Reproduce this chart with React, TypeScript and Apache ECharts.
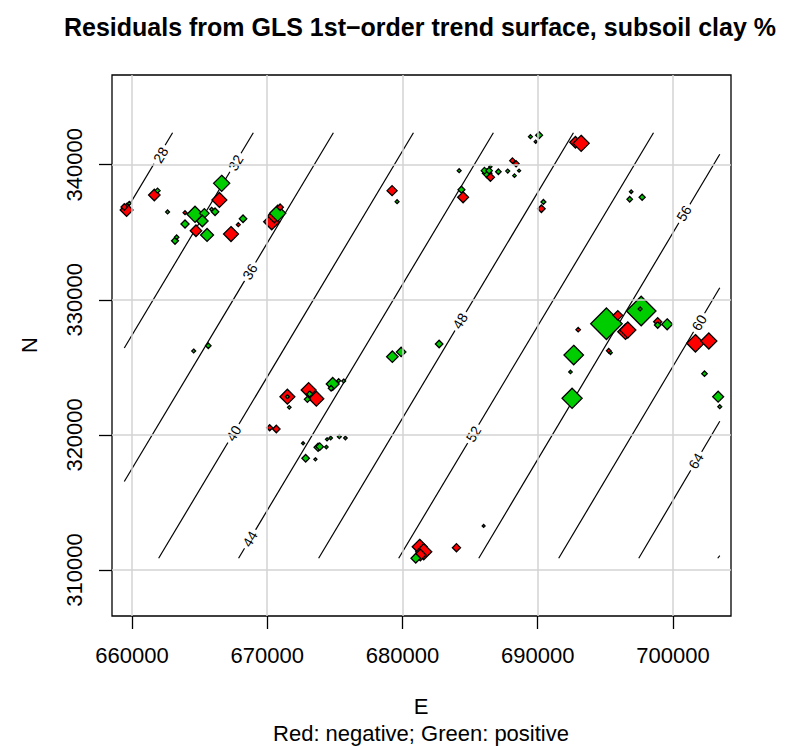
import React, { useEffect, useRef } from "react";
import * as echarts from "echarts";

// ---- axis ticks ----
const xTicks = [660000, 670000, 680000, 690000, 700000];
const yTicks = [310000, 320000, 330000, 340000];
const xRange = [658521, 704290];
const yRange = [306595, 346640];

// ---- contour lines of the trend surface (level, start [E,N], end [E,N]) ----
const contourLevels = [28, 32, 36, 40, 44, 48, 52, 56, 60, 64, 68];
const contourStart = [
  [663000, 342370], [668970, 342370], [674890, 342370], [680810, 342370],
  [686720, 342370], [692640, 342370], [698560, 342370], [703460, 340770],
  [703460, 330890], [703460, 321010], [703460, 311070],
];
const contourEnd = [
  [659430, 336400], [659430, 326430], [659430, 316550], [661970, 310870],
  [667880, 310870], [673800, 310870], [679720, 310870], [685640, 310870],
  [691550, 310870], [697470, 310870], [703310, 310870],
];
// contour label positions [E, N, level]
const contourLabels = [
  [662115, 340718, 28], [667662, 340148, 32], [668727, 332080, 36],
  [667514, 320118, 40], [668720, 312294, 44], [684259, 328431, 48],
  [685243, 320066, 52], [700818, 336403, 56], [701943, 328305, 60],
  [701706, 318068, 64],
];

// ---- residual points [E, N, residual] ----
const residualPoints = [
  [659600, 336650, -5.7], [659430, 336870, -2.5], [659800, 337140, 1.2],
  [661650, 337760, -5], [661890, 338080, 1.8], [662630, 336500, 1.2],
  [663920, 336450, -1.2], [664660, 336330, 7.3], [665350, 336400, 4],
  [665200, 335830, 5], [663920, 335610, 3.3], [664730, 335110, -5],
  [665550, 334800, 5.7], [663180, 334370, 2.7], [663300, 334630, 1.5],
  [667320, 334870, -6.7], [666630, 338620, 7.3], [666460, 337390, -6.7],
  [665890, 336700, 1.2], [666140, 336520, 3], [668210, 336000, 3],
  [667860, 335560, -1.2], [670330, 335780, -7.3], [670520, 336200, -6],
  [670770, 336400, 7.3], [670950, 336850, -2.5],
  [679230, 338080, -4.3], [679600, 337260, 1.2], [684190, 339560, 1.2],
  [684360, 338150, 2.7], [684480, 337590, -4.7], [686260, 339360, 4],
  [686060, 339560, 2.5], [686400, 339560, 2.5], [686500, 339070, -3.3],
  [686500, 339850, 0.8], [687090, 339480, 2], [687780, 339530, 1.2],
  [688280, 339190, 1], [688620, 339560, 0.8], [688130, 340300, -2],
  [688400, 340070, -2.3], [689460, 342070, 1.2], [690100, 342180, 2.7],
  [689850, 341700, 0.8], [690420, 337240, 1.7], [690270, 336740, -3],
  [692790, 341660, -5], [693210, 341580, -7.3], [696910, 338000, 1],
  [696800, 337440, 2], [697720, 337590, 2.3],
  [695080, 328230, 15], [695920, 328850, -4], [696490, 327640, -7],
  [696660, 327760, -7.3], [697650, 329170, 14], [697570, 329320, 1.2],
  [698870, 328380, -3.3], [698870, 328130, 2.5], [699570, 328190, 4.7],
  [692990, 327790, -1.5], [692660, 325910, 9], [695250, 326230, -1.5],
  [695380, 326080, 1], [692420, 324660, 1], [692540, 322710, 9.3],
  [701660, 326780, -8], [702650, 326950, -7.3], [702330, 324530, 2],
  [703340, 322830, 4.7], [703460, 322090, 1.2],
  [664560, 326210, 1.2], [665640, 326600, 2],
  [671490, 322830, -6.7], [671490, 322830, 1.2], [671630, 322040, 1],
  [673060, 323320, -6.7], [673630, 322680, -6.7], [673140, 323030, 2.3],
  [672970, 322630, 2.3], [674840, 323770, 5.7], [674720, 323450, 2],
  [675280, 324010, 1.2], [675650, 323990, 1.2],
  [670180, 320530, -2.3], [670670, 320440, -3],
  [672650, 319380, 0.8], [674420, 319670, 0.8], [674690, 319770, 1],
  [675330, 319870, 1.2], [675780, 319770, 1], [674370, 319100, 1],
  [673760, 319080, 3.3], [673880, 319130, 3], [672840, 318270, 3],
  [673560, 318190, 0.8],
  [679250, 325790, 5], [679900, 326140, 4], [682710, 326730, 3],
  [681270, 311720, -6.7], [681570, 311350, -7.3], [681320, 311110, -5],
  [680980, 310870, 4], [683990, 311650, -3.3], [686000, 313260, 0.7],
];

const RED = "#ff0000";
const GREEN = "#00cd00";
const FONT = '"Liberation Sans", Arial, Helvetica, sans-serif';

export default function App() {
  const ref = useRef<HTMLDivElement>(null);

  useEffect(() => {
    if (!ref.current) return;
    const chart = echarts.init(ref.current, null, { renderer: "svg" });

    const contourSeries = contourLevels.map((lev, i) => ({
      type: "line",
      name: "c" + lev,
      data: [contourStart[i], contourEnd[i]],
      showSymbol: false,
      symbol: "none",
      silent: true,
      z: 2,
      lineStyle: { color: "#000", width: 1.2, opacity: 1 },
    }));

    const option = {
      animation: false,
      backgroundColor: "#fff",
      grid: {
        left: 112,
        top: 75,
        width: 619,
        height: 541,
        show: true,
        borderColor: "#000",
        borderWidth: 1.3,
        backgroundColor: "transparent",
        containLabel: false,
      },
      xAxis: {
        type: "value",
        min: xRange[0],
        max: xRange[1],
        axisLine: { show: false },
        splitLine: { show: false },
        axisTick: {
          show: true,
          length: 13,
          customValues: xTicks,
          lineStyle: { color: "#000", width: 1.3 },
        },
        axisLabel: {
          customValues: xTicks,
          formatter: (v: number) => String(v),
          fontSize: 22,
          fontFamily: FONT,
          color: "#000",
          margin: 28,
        },
      },
      yAxis: {
        type: "value",
        min: yRange[0],
        max: yRange[1],
        axisLine: { show: false },
        splitLine: { show: false },
        axisTick: {
          show: true,
          length: 13,
          customValues: yTicks,
          lineStyle: { color: "#000", width: 1.3 },
        },
        axisLabel: {
          customValues: yTicks,
          formatter: (v: number) => String(v),
          fontSize: 22,
          fontFamily: FONT,
          color: "#000",
          rotate: 90,
          margin: 27,
        },
      },
      graphic: [
        {
          type: "text",
          x: 420,
          y: 27,
          style: {
            text: "Residuals from GLS 1st\u2212order trend surface, subsoil clay %",
            font: `bold 25px ${FONT}`,
            fill: "#000",
            align: "center",
            verticalAlign: "middle",
          },
        },
        {
          type: "text",
          x: 421,
          y: 706,
          style: {
            text: "E",
            font: `22px ${FONT}`,
            fill: "#000",
            align: "center",
            verticalAlign: "middle",
          },
        },
        {
          type: "text",
          x: 421,
          y: 733,
          style: {
            text: "Red: negative; Green: positive",
            font: `22px ${FONT}`,
            fill: "#000",
            align: "center",
            verticalAlign: "middle",
          },
        },
        {
          type: "text",
          x: 29,
          y: 345,
          rotation: Math.PI / 2,
          style: {
            text: "N",
            font: `22px ${FONT}`,
            fill: "#000",
            align: "center",
            verticalAlign: "middle",
          },
        },
      ],
      series: [
        {
          type: "line",
          name: "grid",
          data: [],
          silent: true,
          z: 1,
          markLine: {
            silent: true,
            symbol: ["none", "none"],
            label: { show: false },
            lineStyle: { color: "#d3d3d3", type: "solid", width: 1.5, opacity: 1 },
            data: [
              ...xTicks.map((v) => ({ xAxis: v })),
              ...yTicks.map((v) => ({ yAxis: v })),
            ],
          },
        },
        ...contourSeries,
        {
          type: "scatter",
          name: "contourLabels",
          symbolSize: 0,
          silent: true,
          z: 3,
          itemStyle: { opacity: 1 },
          data: contourLabels.map((c) => ({
            value: [c[0], c[1]],
            label: { formatter: String(c[2]) },
          })),
          label: {
            show: true,
            position: "inside",
            rotate: 59,
            fontSize: 14,
            fontFamily: FONT,
            color: "#000",
            opacity: 1,
            backgroundColor: "#fff",
            padding: [0, 3],
          },
        },
        {
          type: "scatter",
          name: "residuals",
          symbol: "diamond",
          z: 4,
          data: residualPoints.map((p) => ({
            value: p,
            itemStyle: { color: p[2] < 0 ? RED : GREEN },
          })),
          symbolSize: (v: number[]) => 2 * Math.abs(v[2]) + 1.5,
          itemStyle: { borderColor: "#000", borderWidth: 1.3, opacity: 1 },
        },
      ],
    };

    chart.setOption(option as any);
    return () => chart.dispose();
  }, []);

  return (
    <div
      ref={ref}
      style={{
        position: "absolute",
        left: 0,
        top: 0,
        width: 785,
        height: 746,
        background: "#fff",
      }}
    />
  );
}
